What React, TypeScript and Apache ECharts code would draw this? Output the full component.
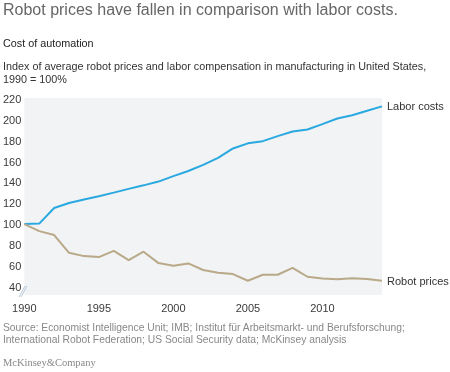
import React, { useEffect, useRef } from "react";
import * as echarts from "echarts";

const years = [1990, 1991, 1992, 1993, 1994, 1995, 1996, 1997, 1998, 1999, 2000, 2001, 2002, 2003, 2004, 2005, 2006, 2007, 2008, 2009, 2010, 2011, 2012, 2013, 2014];
const laborCosts = [100, 100.5, 115.5, 120.3, 123.6, 126.8, 130.2, 133.8, 137.2, 140.8, 146, 151, 156.8, 163.6, 172.6, 177.5, 179.6, 184.4, 188.9, 190.8, 195.9, 201.3, 204.5, 208.7, 213];
const robotPrices = [100, 93.3, 89.5, 72.5, 69.3, 68.4, 74.4, 65.5, 73.5, 62.6, 60, 62.3, 56, 53.3, 52.1, 45.7, 51.4, 51.4, 58.1, 49.5, 47.9, 47, 48, 47.3, 45.7];
const yTicks = [40, 60, 80, 100, 120, 140, 160, 180, 200, 220];
const xTicks = [1990, 1995, 2000, 2005, 2010];

const FONT = "'Liberation Sans', Arial, Helvetica, sans-serif";

export default function App() {
  const ref = useRef<HTMLDivElement>(null);
  useEffect(() => {
    if (!ref.current) return;
    const chart = echarts.init(ref.current, null, { renderer: "svg" });
    const pair = (arr: number[]) => years.map((y, i) => [y, arr[i]]);
    chart.setOption({
      animation: false,
      textStyle: { fontFamily: FONT },
      grid: {
        left: 23,
        right: 68,
        top: 98,
        bottom: 77,
        show: true,
        backgroundColor: "#f1f3f5",
        borderWidth: 0,
      },
      xAxis: {
        type: "value",
        min: 1990,
        max: 2014,
        axisLine: { show: false },
        axisTick: { show: false },
        splitLine: { show: false },
        axisLabel: {
          customValues: xTicks,
          formatter: (v: number) => String(v),
          color: "#3a3a3a",
          fontSize: 11,
          margin: 7,
          fontFamily: FONT,
        },
      },
      yAxis: {
        type: "value",
        min: 32,
        max: 221,
        axisLine: { show: false },
        axisTick: { show: false },
        splitLine: { show: false },
        axisLabel: {
          customValues: yTicks,
          formatter: (v: number) => String(v),
          color: "#3a3a3a",
          fontSize: 11,
          margin: 3,
          fontFamily: FONT,
        },
      },
      graphic: [
        { type: "text", left: 3, top: 1, style: { text: "Robot prices have fallen in comparison with labor costs.", fill: "#666", font: `16px ${FONT}` } },
        { type: "text", left: 3, top: 37, style: { text: "Cost of automation", fill: "#222", font: `500 10.8px ${FONT}` } },
        { type: "text", left: 3, top: 59, style: { text: "Index of average robot prices and labor compensation in manufacturing in United States,\n1990 = 100%", fill: "#333", font: `10.8px ${FONT}`, lineHeight: 13 } },
        { type: "text", left: 3, top: 321, style: { text: "Source: Economist Intelligence Unit; IMB; Institut für Arbeitsmarkt- und Berufsforschung;\nInternational Robot Federation; US Social Security data; McKinsey analysis", fill: "#888", font: `10.3px ${FONT}`, lineHeight: 12.5 } },
        { type: "text", left: 3, top: 357, style: { text: "McKinsey&Company", fill: "#888", font: `10.5px 'Liberation Serif', 'Times New Roman', serif` } },
        { type: "line", shape: { x1: 19, y1: 297, x2: 25, y2: 286 }, style: { stroke: "#b7c6d3", lineWidth: 1 } },
        { type: "line", shape: { x1: 21, y1: 297, x2: 27, y2: 286 }, style: { stroke: "#b7c6d3", lineWidth: 1 } },
      ],
      series: [
        {
          name: "Labor costs",
          type: "line",
          data: pair(laborCosts),
          symbol: "none",
          lineStyle: { color: "#2aa8e0", width: 2 },
          itemStyle: { color: "#2aa8e0" },
          endLabel: { show: true, formatter: "{a}", color: "#333", fontSize: 11, distance: 5, fontFamily: FONT },
        },
        {
          name: "Robot prices",
          type: "line",
          data: pair(robotPrices),
          symbol: "none",
          lineStyle: { color: "#b9a988", width: 2 },
          itemStyle: { color: "#b9a988" },
          endLabel: { show: true, formatter: "{a}", color: "#333", fontSize: 11, distance: 5, fontFamily: FONT },
        },
      ],
    });
    return () => chart.dispose();
  }, []);
  return <div ref={ref} style={{ position: "fixed", left: 0, top: 0, width: 450, height: 372 }} />;
}
